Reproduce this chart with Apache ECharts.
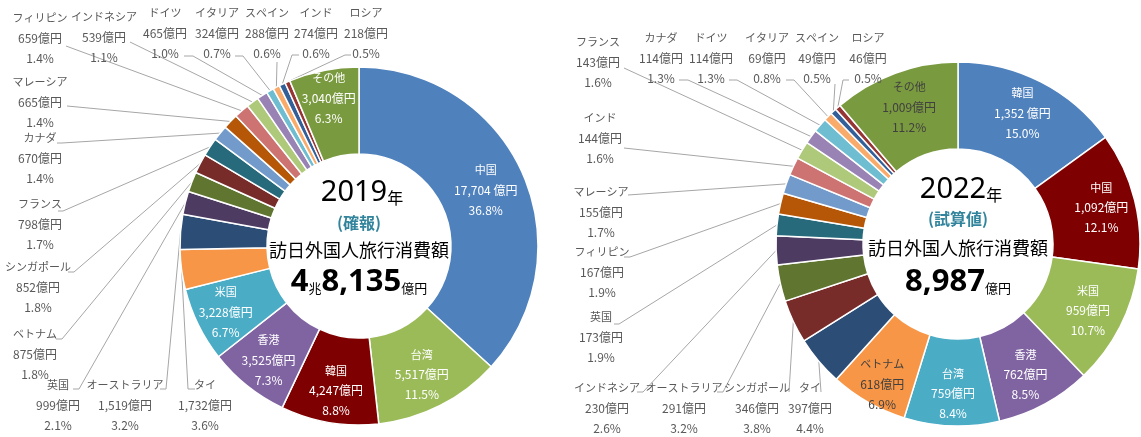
<!DOCTYPE html>
<html>
<head>
<meta charset="utf-8">
<title>訪日外国人旅行消費額</title>
<script src="https://cdn.jsdelivr.net/npm/echarts@6/dist/echarts.min.js"></script>
<style>
  html, body { margin: 0; padding: 0; background: #fff; }
  #main { width: 1141px; height: 437px; }
</style>
</head>
<body>
<div id="main"></div>
<script>
// 2019年（確報）国・地域別、12時から時計回り
const names2019 = ['中国', '台湾', '韓国', '香港', '米国', 'タイ', 'オーストラリア', '英国', 'ベトナム', 'シンガポール', 'フランス',
  'カナダ', 'マレーシア', 'フィリピン', 'インドネシア', 'ドイツ', 'イタリア', 'スペイン', 'インド', 'ロシア', 'その他'];
const values2019 = [17704, 5517, 4247, 3525, 3228, 1732, 1519, 999, 875, 852, 798, 670, 665, 659, 539, 465, 324, 288, 274, 218, 3040];
const pct2019 = [36.8, 11.5, 8.8, 7.3, 6.7, 3.6, 3.2, 2.1, 1.8, 1.8, 1.7, 1.4, 1.4, 1.4, 1.1, 1.0, 0.7, 0.6, 0.6, 0.5, 6.3];
const total2019 = ['4', '8,135'];

// 2022年（試算値）
const names2022 = ['韓国', '中国', '米国', '香港', '台湾', 'ベトナム', 'タイ', 'シンガポール', 'オーストラリア', 'インドネシア', '英国',
  'フィリピン', 'マレーシア', 'インド', 'フランス', 'カナダ', 'ドイツ', 'イタリア', 'スペイン', 'ロシア', 'その他'];
const values2022 = [1352, 1092, 959, 762, 759, 618, 397, 346, 291, 230, 173, 167, 155, 144, 143, 114, 114, 69, 49, 46, 1009];
const pct2022 = [15.0, 12.1, 10.7, 8.5, 8.4, 6.9, 4.4, 3.8, 3.2, 2.6, 1.9, 1.9, 1.7, 1.6, 1.6, 1.3, 1.3, 0.8, 0.5, 0.5, 11.2];
const total2022 = '8,987';

// 色（スライス順）
const colors2019 = ['#4f81bd', '#9bbb59', '#7f0000', '#8064a2', '#4bacc6', '#f79646', '#2c4d75', '#4d3b62', '#5f7530', '#772c2a',
  '#276a7c', '#729aca', '#b65708', '#cd7371', '#afc97a', '#9983b5', '#6fbdd1', '#f9ab6b', '#34609a', '#963634', '#7a9a3f'];
const colors2022 = ['#4f81bd', '#7f0000', '#9bbb59', '#8064a2', '#4bacc6', '#f79646', '#2c4d75', '#772c2a', '#5f7530', '#4d3b62',
  '#276a7c', '#b65708', '#729aca', '#cd7371', '#afc97a', '#9983b5', '#6fbdd1', '#f9ab6b', '#34609a', '#963634', '#7a9a3f'];

// 外側ラベルの位置 [中心x, 1行目y, 線の端x, 端y, 折れ点x, 折れ点y]
const outside2019 = {
  'タイ': [205, 385, 195, 389, 188, 389],
  'オーストラリア': [125, 385, 160, 389, 166, 389],
  '英国': [58, 385, 73, 389, 79, 389],
  'ベトナム': [35, 334, 56, 339, 62, 339],
  'シンガポール': [38, 267, 68, 272, 74, 272],
  'フランス': [40, 204, 58, 211, 63, 211],
  'カナダ': [40, 138, 57, 143, 62, 143],
  'マレーシア': [40, 82, 67, 106, 67, 106],
  'フィリピン': [40, 18, 66, 46, 66, 46],
  'インドネシア': [104, 17, 130, 42, 130, 42],
  'ドイツ': [165, 13, 184, 56, 193, 56],
  'イタリア': [217, 13, 235, 56, 243, 56],
  'スペイン': [267, 13, 277, 62, 277, 62],
  'インド': [316, 13, 299, 55, 292, 55],
  'ロシア': [366, 13, 351, 55, 345, 55]
};
const outside2022 = {
  'フランス': [598, 42, 624, 68, 624, 68],
  'カナダ': [661, 38, 679, 80, 688, 80],
  'ドイツ': [711, 38, 729, 80, 737, 80],
  'イタリア': [767, 38, 786, 80, 794, 80],
  'スペイン': [817, 38, 835, 84, 835, 84],
  'ロシア': [868, 38, 849, 80, 843, 80],
  'インド': [600, 118, 624, 148, 624, 148],
  'マレーシア': [601, 192, 628, 195, 628, 195],
  'フィリピン': [602, 252, 624, 257, 630, 257],
  '英国': [601, 317, 614, 324, 619, 324],
  'インドネシア': [607, 388, 637, 392, 643, 392],
  'オーストラリア': [684, 388, 717, 392, 723, 392],
  'シンガポール': [757, 388, 789, 392, 789, 392],
  'タイ': [810, 388, 821, 392, 821, 392]
};
// 内側ラベルのずらし [dx, dy]
const inside2019 = { '中国': [0, 0], '台湾': [0, 5], '韓国': [0, 8], '香港': [-4, 6], '米国': [-9, 5], 'その他': [-3, -12] };
const inside2022 = { '韓国': [0, -5], '中国': [6, -2], '米国': [4, 2], '香港': [0, 6], '台湾': [0, 8], 'ベトナム': [-6, 17], 'その他': [0, -4] };
const darkText2022 = ['ベトナム', 'その他'];

const jp = '"Noto Sans CJK JP", "Noto Sans", sans-serif';

function buildData(names, values, colors, inside, darkText) {
  return names.map(function (n, i) {
    const isIn = inside[n] !== undefined;
    return {
      name: n,
      value: values[i],
      itemStyle: { color: colors[i] },
      label: {
        position: isIn ? 'inside' : 'outside',
        color: isIn ? (darkText.indexOf(n) >= 0 ? '#404040' : '#ffffff') : '#595959'
      },
      labelLine: { show: !isIn }
    };
  });
}

function makeFormatter(pct) {
  return function (p) {
    const sp = p.dataIndex === 0 ? ' ' : '';
    return '{n|' + p.name + '}\n{v|' + p.value.toLocaleString('en-US') + sp + '億円}\n{v|' + pct[p.dataIndex].toFixed(1) + '%}';
  };
}

function makeLayout(names, outside, inside) {
  return function (p) {
    const n = names[p.dataIndex];
    const o = outside[n];
    if (o) {
      const res = { x: o[0], y: o[1] - 10, align: 'center', verticalAlign: 'top' };
      if (p.labelLinePoints) {
        res.labelLinePoints = [p.labelLinePoints[0], [o[4], o[5]], [o[2], o[3]]];
      }
      return res;
    }
    const s = inside[n] || [0, 0];
    return { dx: s[0], dy: s[1] };
  };
}

function pieSeries(center, radius, names, values, pct, colors, outside, inside, darkText) {
  return {
    type: 'pie',
    center: center,
    radius: radius,
    startAngle: 90,
    clockwise: true,
    avoidLabelOverlap: false,
    silent: true,
    itemStyle: { borderColor: '#ffffff', borderWidth: 1.5 },
    label: {
      show: true,
      formatter: makeFormatter(pct),
      fontFamily: jp,
      fontSize: 12,
      lineHeight: 20,
      align: 'center',
      rich: {
        n: { fontSize: 11, lineHeight: 20, fontFamily: jp },
        v: { fontSize: 12, lineHeight: 20, fontFamily: jp }
      }
    },
    labelLine: { show: true, smooth: false, lineStyle: { color: '#a6a6a6', width: 1 } },
    labelLayout: makeLayout(names, outside, inside),
    data: buildData(names, values, colors, inside, darkText)
  };
}

// 中央の文字
function centerTexts(cx, ys, year, note, totalRich) {
  return [
    {
      type: 'text', x: cx + 3, y: ys[0],
      style: {
        text: '{a|' + year + '}{b|年}', align: 'center', verticalAlign: 'middle',
        rich: {
          a: { fontSize: 29, fontFamily: '"Noto Sans", sans-serif', fill: '#000', verticalAlign: 'bottom' },
          b: { fontSize: 16, fontFamily: jp, fill: '#000', verticalAlign: 'bottom', padding: [0, 0, 2, 0] }
        }
      }
    },
    {
      type: 'text', x: cx, y: ys[1],
      style: { text: note, align: 'center', verticalAlign: 'middle', fontSize: 16, fontWeight: 'bold', fontFamily: jp, fill: '#31849b' }
    },
    {
      type: 'text', x: cx, y: ys[2],
      style: { text: '訪日外国人旅行消費額', align: 'center', verticalAlign: 'middle', fontSize: 18, fontFamily: jp, fill: '#000' }
    },
    {
      type: 'text', x: cx, y: ys[3],
      style: {
        text: totalRich, align: 'center', verticalAlign: 'middle',
        rich: {
          n: { fontSize: 31, fontWeight: 'bold', fontFamily: '"Noto Sans", sans-serif', fill: '#000', verticalAlign: 'bottom' },
          s: { fontSize: 13, fontFamily: jp, fill: '#000', verticalAlign: 'bottom', padding: [0, 0, 3, 0] }
        }
      }
    }
  ];
}

const chart = echarts.init(document.getElementById('main'));
chart.setOption({
  animation: false,
  textStyle: { fontFamily: jp },
  series: [
    pieSeries([359, 246], [92, 179], names2019, values2019, pct2019, colors2019, outside2019, inside2019, []),
    pieSeries([958, 244], [95, 182], names2022, values2022, pct2022, colors2022, outside2022, inside2022, darkText2022)
  ],
  graphic: centerTexts(359, [193, 223, 250, 282], '2019', '(確報)',
    '{n|' + total2019[0] + '}{s|兆}{n|' + total2019[1] + '}{s|億円}')
    .concat(centerTexts(958, [190, 219, 248, 282], '2022', '(試算値)',
      '{n|' + total2022 + '}{s|億円}'))
});
</script>
</body>
</html>
